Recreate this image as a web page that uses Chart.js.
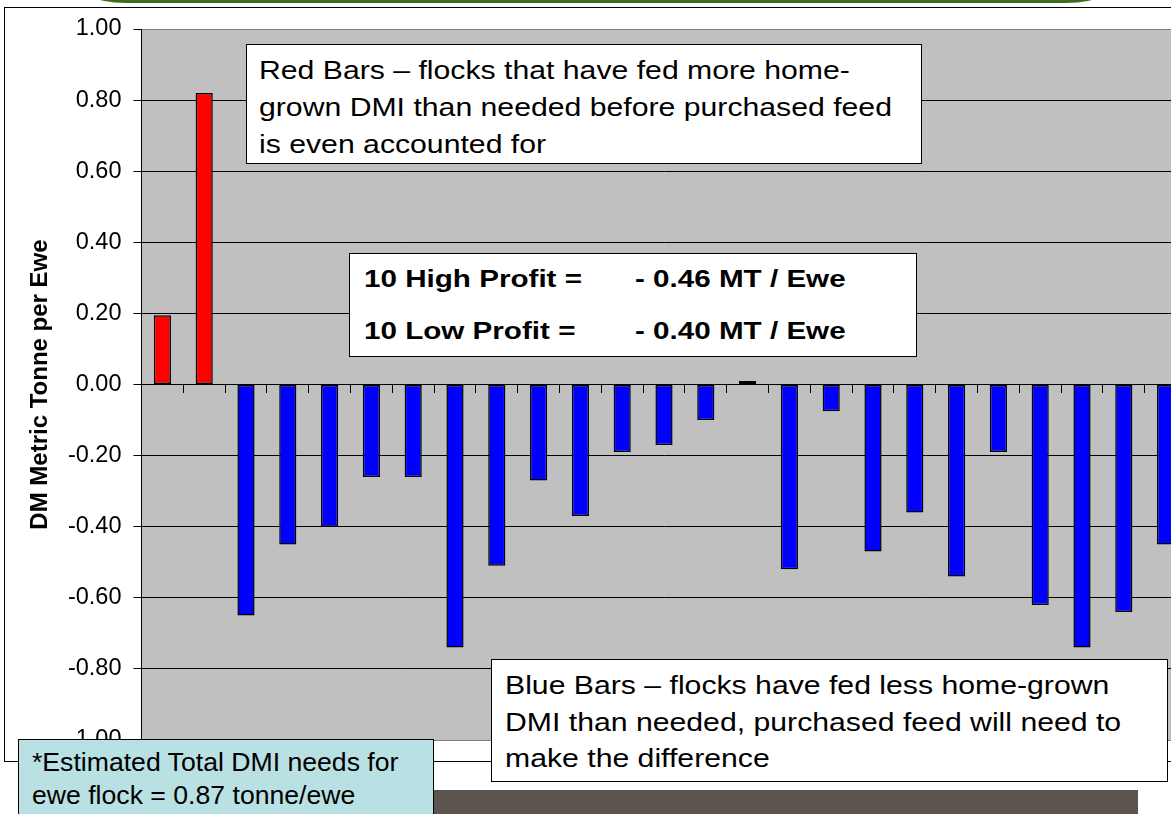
<!DOCTYPE html>
<html>
<head>
<meta charset="utf-8">
<script src="https://cdn.jsdelivr.net/npm/chart.js@4.4.1/dist/chart.umd.min.js"></script>
<style>
    html, body { margin: 0; padding: 0; background: #fff; overflow: hidden; }
    body { width: 1171px; height: 814px; position: relative; font-family: "Liberation Sans", Arial, sans-serif; }
    #band { position: absolute; left: 66px; top: -30px; width: 1060px; height: 33px; background: #3b6c22; border-radius: 0 0 60px 60px / 0 0 30px 30px; }
    #frame { position: absolute; left: 4px; top: 7px; width: 1300px; height: 755px; border: 1px solid #000; box-sizing: border-box; }
    #dmiChart { position: absolute; left: 0; top: 0; z-index: 1; }
    .box { position: absolute; border: 1px solid #000; box-sizing: border-box; background: #fff; z-index: 2; color: #000; }
    .box span { position: absolute; white-space: nowrap; transform-origin: 0 0; }
    #redNote span, #blueNote span { font-size: 25.6px; line-height: 25.6px; transform: scaleX(1.18); }
    #profitNote span { font-size: 23.5px; line-height: 23.5px; font-weight: bold; transform: scaleX(1.26); }
    #needNote { background: #b9e0e2; }
    #needNote span { font-size: 25.6px; line-height: 25.6px; transform: scaleX(1.04); }
    #darkBar { position: absolute; left: 300px; top: 790px; width: 838px; height: 30px; background: #5c544e; z-index: 2; }
</style>
</head>
<body>
<div id="band"></div>
<div id="frame"></div>
<canvas id="dmiChart" width="1200" height="814"></canvas>

<div class="box" id="redNote" style="left:246px; top:44px; width:676px; height:120px;">
    <span style="left:12px; top:13px;">Red Bars – flocks that have fed more home-</span>
    <span style="left:12px; top:50px;">grown DMI than needed before purchased feed</span>
    <span style="left:12px; top:87px;">is even accounted for</span>
</div>

<div class="box" id="profitNote" style="left:349px; top:253px; width:568px; height:104px;">
    <span style="left:14px; top:14px;">10 High Profit =</span>
    <span style="left:285px; top:14px;">- 0.46 MT / Ewe</span>
    <span style="left:14px; top:66px;">10 Low Profit =</span>
    <span style="left:285px; top:66px;">- 0.40 MT / Ewe</span>
</div>

<div id="darkBar"></div>

<div class="box" id="blueNote" style="left:491px; top:659px; width:677px; height:123px;">
    <span style="left:13px; top:13px;">Blue Bars – flocks have fed less home-grown</span>
    <span style="left:13px; top:50px;">DMI than needed, purchased feed will need to</span>
    <span style="left:13px; top:86px;">make the difference</span>
</div>

<div class="box" id="needNote" style="left:18px; top:739px; width:416px; height:100px;">
    <span style="left:13px; top:10px;">*Estimated Total DMI needs for</span>
    <span style="left:13px; top:43px;">ewe flock = 0.87 tonne/ewe</span>
</div>

<script>
const fontFamily = '"Liberation Sans", Arial, sans-serif';

// un flock per barra (tonnellate DM per pecora)
const flockIds = [
    "1", "2", "3", "4", "5", "6", "7", "8", "9", "10", "11", "12", "13",
    "14", "15", "16", "17", "18", "19", "20", "21", "22", "23", "24", "25",
];
const dmiBalance = [
    0.195, 0.82, -0.65, -0.45, -0.4, -0.26, -0.26, -0.74, -0.51, -0.27, -0.37, -0.19, -0.17,
    -0.1, 0.01, -0.52, -0.075, -0.47, -0.36, -0.54, -0.19, -0.62, -0.74, -0.64, -0.45,
];
const yTickValues = [-1, -0.8, -0.6, -0.4, -0.2, 0, 0.2, 0.4, 0.6, 0.8, 1];
const yTitle = "DM Metric Tonne per Ewe";

const surplusColor = "#ff0000";
const deficitColor = "#0000ff";

// sfondo grigio dell'area del grafico
const plotBackground = {
    id: "plotBackground",
    beforeDraw(chart) {
        const { ctx, chartArea } = chart;
        ctx.save();
        ctx.fillStyle = "#c0c0c0";
        ctx.fillRect(chartArea.left, chartArea.top, chartArea.right - chartArea.left, chartArea.bottom - chartArea.top);
        ctx.restore();
    },
};

const ctx = document.getElementById("dmiChart").getContext("2d");

new Chart(ctx, {
    type: "bar",
    data: {
        labels: flockIds,
        datasets: [
            {
                label: "DMI balance",
                data: dmiBalance,
                backgroundColor: dmiBalance.map((v) => (v >= 0 ? surplusColor : deficitColor)),
                borderColor: "#000",
                borderWidth: 1.5,
                borderSkipped: false,
                barPercentage: 0.41,
                categoryPercentage: 1,
            },
        ],
    },
    options: {
        responsive: false,
        animation: false,
        layout: { padding: { top: 29, bottom: 74, left: 0, right: 13.5 } },
        plugins: {
            legend: { display: false },
            tooltip: { enabled: false },
        },
        scales: {
            x: {
                position: { y: 0 },
                offset: true,
                ticks: { display: false },
                grid: { drawOnChartArea: false, drawTicks: true, tickLength: 8, color: "#000", offset: true },
                border: { display: true, color: "#000", width: 1 },
            },
            y: {
                min: -1,
                max: 1,
                afterBuildTicks: (scale) => {
                    scale.ticks = yTickValues.map((v) => ({ value: v }));
                },
                afterFit: (scale) => {
                    scale.width = 141.5;
                },
                ticks: {
                    callback: (value) => Number(value).toFixed(2),
                    font: { family: fontFamily, size: 23.5 },
                    color: "#000",
                    padding: 12,
                },
                grid: {
                    color: (c) => (c.tick && Math.abs(c.tick.value) === 1 ? "#808080" : "#000"),
                    tickColor: "#000",
                    tickLength: 8,
                    lineWidth: 1,
                },
                border: { color: "#000", width: 1 },
                title: {
                    display: true,
                    text: yTitle,
                    color: "#000",
                    font: { family: fontFamily, size: 24, weight: "bold" },
                    padding: { top: 26, bottom: 0 },
                },
            },
        },
    },
    plugins: [plotBackground],
});
</script>
</body>
</html>
